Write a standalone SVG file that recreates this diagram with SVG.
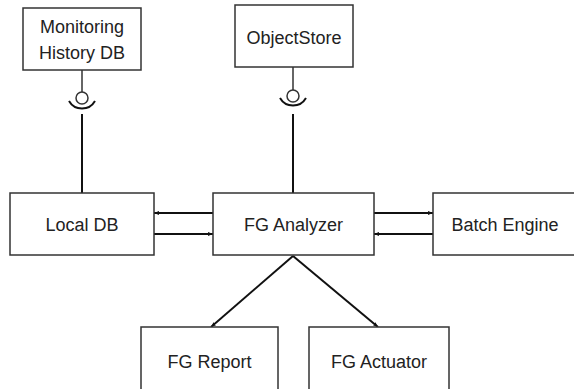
<svg xmlns="http://www.w3.org/2000/svg" width="574" height="389" viewBox="0 0 574 389">
<style>
.box{fill:#fff;stroke:#333;stroke-width:1.5}
.t{font-family:"Liberation Sans",Arial,sans-serif;font-size:18px;fill:#222;text-anchor:middle}
.c{stroke:#111;stroke-width:2;fill:none}
.ci{stroke:#333;stroke-width:1.5;fill:#fff}
</style>
<defs>
<marker id="ah" viewBox="0 0 10 10" refX="10" refY="5" markerWidth="5" markerHeight="5" orient="auto" markerUnits="userSpaceOnUse">
<path d="M0,1 L10,5 L0,9 Z" fill="#111"/>
</marker>
</defs>
<rect width="574" height="389" fill="#fff"/>
<g id="connectors">
<line class="ci" x1="82" y1="70" x2="82" y2="92"/>
<circle class="ci" cx="82" cy="98" r="6"/>
<path class="c" d="M69,101 A15,15 0 0 0 95,101"/>
<line class="c" x1="82" y1="114" x2="82" y2="193"/>
<line class="ci" x1="293" y1="67" x2="293" y2="90"/>
<circle class="ci" cx="293" cy="96" r="6"/>
<path class="c" d="M280,98 A15,15 0 0 0 306,98"/>
<line class="c" x1="293" y1="114" x2="293" y2="193"/>
<line class="c" x1="213" y1="213" x2="154" y2="213" marker-end="url(#ah)"/>
<line class="c" x1="154" y1="234" x2="213" y2="234" marker-end="url(#ah)"/>
<line class="c" x1="374" y1="213" x2="433" y2="213" marker-end="url(#ah)"/>
<line class="c" x1="433" y1="234" x2="374" y2="234" marker-end="url(#ah)"/>
<line class="c" x1="293" y1="256" x2="211" y2="327" marker-end="url(#ah)"/>
<line class="c" x1="293" y1="256" x2="378" y2="327" marker-end="url(#ah)"/>
</g>
<g id="monitoring-history-db">
<rect class="box" x="23" y="8" width="118" height="62"/>
<text class="t" x="82" y="33">Monitoring</text>
<text class="t" x="82" y="59">History DB</text>
</g>
<g id="objectstore">
<rect class="box" x="235" y="5" width="118" height="62"/>
<text class="t" x="294" y="44">ObjectStore</text>
</g>
<g id="local-db">
<rect class="box" x="10" y="193" width="144" height="62"/>
<text class="t" x="82" y="231">Local DB</text>
</g>
<g id="fg-analyzer">
<rect class="box" x="213" y="193" width="161" height="62"/>
<text class="t" x="293.5" y="231">FG Analyzer</text>
</g>
<g id="batch-engine">
<rect class="box" x="433" y="193" width="150" height="62"/>
<text class="t" x="505" y="231">Batch Engine</text>
</g>
<g id="fg-report">
<rect class="box" x="141" y="327" width="137" height="70"/>
<text class="t" x="209.5" y="368">FG Report</text>
</g>
<g id="fg-actuator">
<rect class="box" x="309" y="327" width="140" height="70"/>
<text class="t" x="379" y="368">FG Actuator</text>
</g>
</svg>
